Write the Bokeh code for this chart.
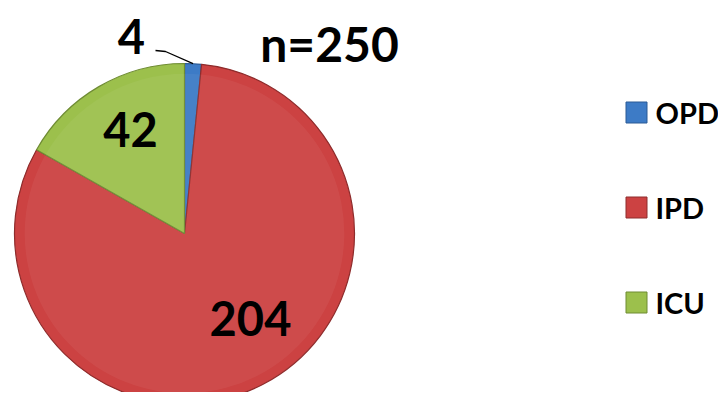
import math
from bokeh.plotting import figure
from bokeh.models import ColumnDataSource, Label, Range1d
from bokeh.core.properties import value
from bokeh.embed import file_html
from bokeh.resources import INLINE

categories = ["OPD", "IPD", "ICU"]
counts = [4, 204, 42]
colors = ["#3d7bc6", "#cc4242", "#9cc04c"]
edge_colors = ["#2a5a95", "#8e2c2c", "#6f8c33"]
total_label = "n=250"

W, H = 718, 392
p = figure(width=W, height=H, output_backend="svg", toolbar_location=None,
           x_range=Range1d(0, W), y_range=Range1d(0, H), min_border=0)
p.axis.visible = False
p.grid.visible = False
p.outline_line_color = None
p.background_fill_color = "white"

cx, cy, R = 184, 159, 170
total = sum(counts)
starts, ends = [], []
a = math.pi / 2
for c in counts:
    starts.append(a)
    a -= c / total * 2 * math.pi
    ends.append(a)

src = ColumnDataSource(dict(cat=categories, val=counts, start=starts, end=ends,
                            color=colors, edge=edge_colors))
p.wedge(x=cx, y=cy, radius=R, start_angle="start", end_angle="end", direction="clock",
        fill_color="color", line_color="edge", line_width=1.2, source=src)
# soft highlight
p.wedge(x=cx, y=cy, radius=R * 0.94, start_angle="start", end_angle="end", direction="clock",
        fill_color="white", fill_alpha=0.05, line_color=None, source=src)

font = value("Lato")
# value labels
lab_pos = {"OPD": (131, 356), "ICU": (130, 263), "IPD": (250, 74)}
for cat, v in zip(categories, counts):
    x, y = lab_pos[cat]
    p.add_layout(Label(x=x, y=y, text=str(v), text_font="Lato", text_font_style="bold",
                       text_font_size="47px", text_color="black",
                       text_align="center", text_baseline="middle"))
p.add_layout(Label(x=329, y=349, text=total_label, text_font="Lato", text_font_style="bold",
                   text_font_size="48px", text_color="black",
                   text_align="center", text_baseline="middle"))

# leader line for small slice
mid = (starts[0] + ends[0]) / 2
ex, ey = cx + R * math.cos(mid), cy + R * math.sin(mid)
p.line(x=[155, 165, ex], y=[342, 341, ey], line_color="black", line_width=1.3)

# legend
ly = [280, 185, 90]
p.rect(x=[636] * 3, y=ly, width=21, height=21, fill_color=colors,
       line_color=edge_colors, line_width=1)
p.text(x=[655] * 3, y=ly, text=categories, text_font=font, text_font_style="bold",
       text_font_size="29px", text_color="black", text_baseline="middle", text_align="left")

open("out.html", "w").write(file_html(p, INLINE))
